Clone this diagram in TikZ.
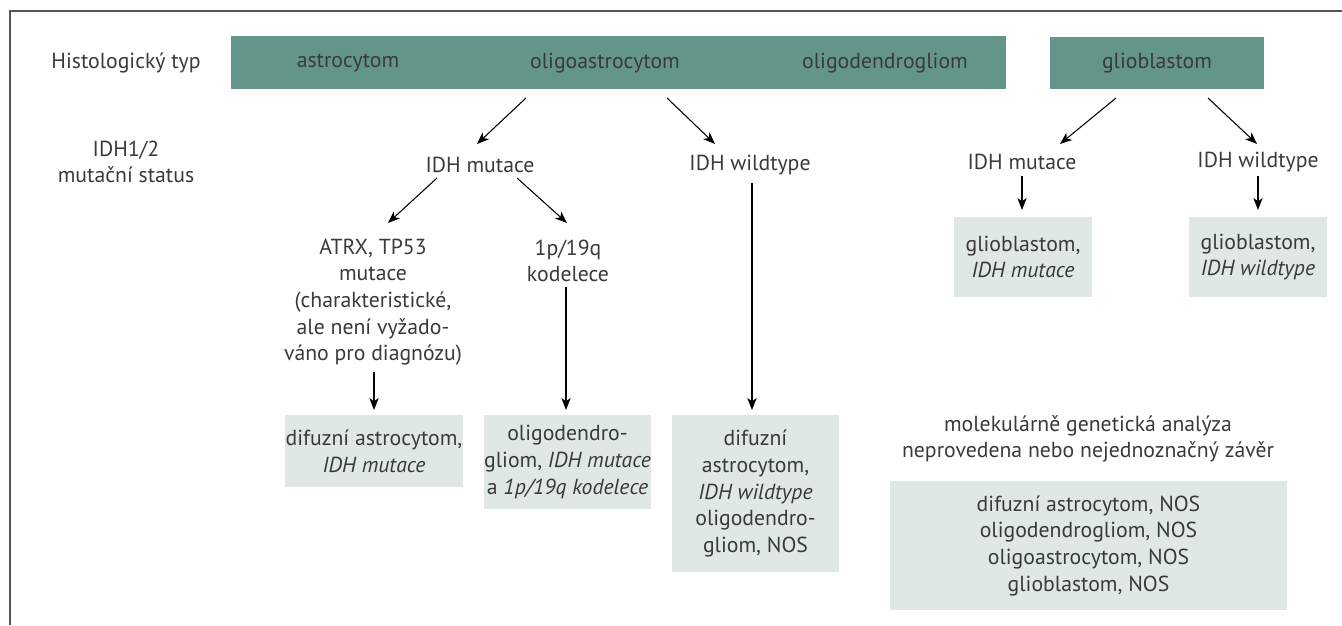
\documentclass[tikz,border=0pt]{standalone}
\usepackage{fontspec}
\setmainfont{PT Sans}
\usetikzlibrary{arrows.meta,calc}
\definecolor{teal}{HTML}{64958B}
\definecolor{lbg}{HTML}{DFE8E6}
\definecolor{txt}{HTML}{3A3A3A}
\definecolor{frame}{HTML}{555555}
\begin{document}
\begin{tikzpicture}[x=0.75pt,y=-0.75pt,
  every node/.style={text=txt,font=\fontsize{16.3pt}{20pt}\selectfont,align=center,inner sep=0pt},
  darkbox/.style={fill=teal,draw=none},
  lightbox/.style={fill=lbg,draw=none},
  arr/.style={-{Stealth[length=9pt,width=7pt,inset=2.5pt]},line width=0.8pt,black}]
\useasboundingbox (0,0) rectangle (1342,625);
\draw[frame,line width=0.9pt] (10,625) -- (10,11) -- (1342,11);
% headings
\node (hist) at (126,63) {Histologický typ};
\node (status) at (126,162) {IDH1/2\\mutační status};
% top band
\node[darkbox,minimum width=581.25pt,minimum height=39.75pt] (band) at (618.5,62.5) {};
\node (astro) at (348,63) {astrocytom};
\node (oligoastro) at (605,63) {oligoastrocytom};
\node (oligoden) at (885,63) {oligodendrogliom};
\node[darkbox,minimum width=160.5pt,minimum height=39pt] (gbm) at (1157,63) {glioblastom};
% level 2
\node (idhm) at (480,165) {IDH mutace};
\node (idhw) at (750,165) {IDH wildtype};
\node (gmut) at (1022,162) {IDH mutace};
\node (gwt) at (1258,162) {IDH wildtype};
% level 3
\node (atrx) at (373,302) {ATRX, TP53\\mutace\\(charakteristické,\\ale není vyžado-\\váno pro diagnózu)};
\node (kod) at (568,261) {1p/19q\\kodelece};
% result boxes
\node[lightbox,minimum width=133.5pt,minimum height=54pt] (box1) at (374,451) {difuzní astrocytom,\\\textit{IDH mutace}};
\node[lightbox,minimum width=125.25pt,minimum height=70.5pt] (box2) at (567.5,462) {oligodendro-\\gliom, \textit{IDH mutace}\\a \textit{1p/19q kodelece}};
\node[lightbox,minimum width=125.25pt,minimum height=117.75pt] (box3) at (755.5,493.5) {difuzní\\astrocytom,\\\textit{IDH wildtype}\\oligodendro-\\gliom, NOS};
\node[lightbox,minimum width=103.5pt,minimum height=60pt] (gbox1) at (1023,257) {glioblastom,\\\textit{IDH mutace}};
\node[lightbox,minimum width=103.5pt,minimum height=60pt] (gbox2) at (1258,257) {glioblastom,\\\textit{IDH wildtype}};
\node (mol) at (1088,439) {molekulárně genetická analýza\\neprovedena nebo nejednoznačný závěr};
\node[lightbox,minimum width=297.75pt,minimum height=96.75pt] (big) at (1088.5,545.5) {difuzní astrocytom, NOS\\oligodendrogliom, NOS\\oligoastrocytom, NOS\\glioblastom, NOS};
% connector end points
\coordinate (s1) at (526,98);  \coordinate (e1) at (477,144);
\coordinate (s2) at (667,98);  \coordinate (e2) at (715,144);
\coordinate (s3) at (437,178); \coordinate (e3) at (388,223);
\coordinate (s4) at (517,178); \coordinate (e4) at (567,223);
\coordinate (s5) at (374,372); \coordinate (e5) at (374,410);
\coordinate (s6) at (566,287); \coordinate (e6) at (566,410);
\coordinate (s7) at (752,183); \coordinate (e7) at (752,410);
\coordinate (s8) at (1116,98); \coordinate (e8) at (1060,144);
\coordinate (s9) at (1208,98); \coordinate (e9) at (1257,144);
\coordinate (s10) at (1022,176); \coordinate (e10) at (1022,210);
\coordinate (s11) at (1258,176); \coordinate (e11) at (1258,210);
\foreach \i in {1,...,11} {\draw[arr] (s\i) -- (e\i);}
\end{tikzpicture}
\end{document}
